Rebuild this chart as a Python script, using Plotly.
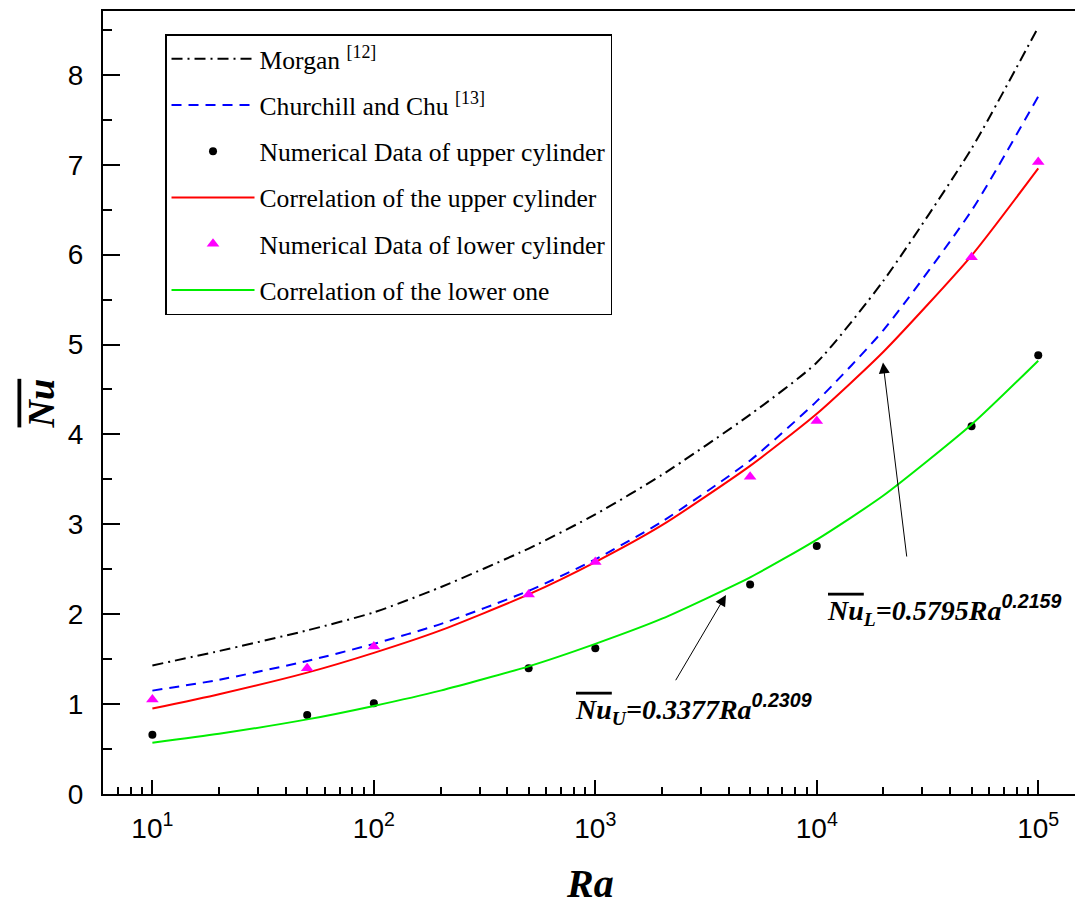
import plotly.graph_objects as go

# ---- data ----
ra_curve = [10, 20, 50, 100, 200, 500, 1000, 2000, 5000, 10000, 20000, 50000, 100000]
morgan = [1.43, 1.59, 1.82, 2.02, 2.30, 2.73, 3.11, 3.55, 4.22, 4.80, 5.71, 7.18, 8.53]
churchill_chu = [1.15, 1.27, 1.48, 1.67, 1.89, 2.26, 2.61, 3.03, 3.71, 4.37, 5.16, 6.49, 7.76]
corr_upper = [0.95, 1.11, 1.35, 1.57, 1.82, 2.22, 2.58, 2.99, 3.65, 4.23, 4.92, 5.99, 6.96]
corr_lower = [0.57, 0.67, 0.83, 0.98, 1.15, 1.42, 1.67, 1.95, 2.41, 2.83, 3.32, 4.11, 4.82]

ra_points = [10, 50, 100, 500, 1000, 5000, 10000, 50000, 100000]
num_upper = [0.66, 0.88, 1.01, 1.40, 1.62, 2.33, 2.76, 4.09, 4.88]
num_lower = [1.05, 1.40, 1.64, 2.22, 2.58, 3.53, 4.15, 5.97, 7.03]

x_tickvals = [10, 100, 1000, 10000, 100000]
x_ticktext = ["10<sup>1</sup>", "10<sup>2</sup>", "10<sup>3</sup>", "10<sup>4</sup>", "10<sup>5</sup>"]
y_tickvals = [0, 1, 2, 3, 4, 5, 6, 7, 8]

names = [
    "Morgan <sup>[12]</sup>",
    "Churchill and Chu <sup>[13]</sup>",
    "Numerical Data of upper cylinder",
    "Correlation of the upper cylinder",
    "Numerical Data of lower cylinder",
    "Correlation of the lower one",
]

fig = go.Figure()
fig.add_trace(go.Scatter(x=ra_curve, y=morgan, mode="lines", name=names[0], legendgroup="a",
                         line=dict(color="black", width=2, dash="11px,5px,2px,5px", shape="spline", smoothing=0.6)))
fig.add_trace(go.Scatter(x=ra_curve, y=churchill_chu, mode="lines", name=names[1], legendgroup="b",
                         line=dict(color="#0000ff", width=2, dash="10px,7px", shape="spline", smoothing=0.6)))
fig.add_trace(go.Scatter(x=ra_points, y=num_upper, mode="markers", name=names[2], legendgroup="c",
                         marker=dict(color="black", size=8, symbol="circle")))
fig.add_trace(go.Scatter(x=ra_curve, y=corr_upper, mode="lines", name=names[3], legendgroup="d",
                         line=dict(color="#ff0000", width=2, shape="spline", smoothing=0.6)))
fig.add_trace(go.Scatter(x=ra_points, y=num_lower, mode="markers", name=names[4], legendgroup="e",
                         marker=dict(color="#ff00ff", size=11, symbol="triangle-up")))
fig.add_trace(go.Scatter(x=ra_curve, y=corr_lower, mode="lines", name=names[5], legendgroup="f",
                         line=dict(color="#00ee00", width=2, shape="spline", smoothing=0.6)))

serif = "Liberation Serif, Times New Roman, serif"
sans = "Liberation Sans, Arial, sans-serif"

fig.update_layout(
    width=1075, height=909,
    margin=dict(l=103, r=0, t=11, b=115),
    paper_bgcolor="white", plot_bgcolor="white",
    showlegend=True,
    legend=dict(x=0.0638, y=0.9706, xanchor="left", yanchor="top",
                bordercolor="black", borderwidth=1.5, bgcolor="white",
                font=dict(family=serif, size=25.6, color="black"),
                tracegroupgap=10, itemwidth=83),
    xaxis=dict(type="log", range=[0.777, 5.166], tickvals=x_tickvals, ticktext=x_ticktext,
               ticks="inside", ticklen=14, tickwidth=1.5, tickcolor="black",
               showline=True, linecolor="black", linewidth=2, mirror=True,
               showgrid=False, zeroline=False,
               tickfont=dict(family=sans, size=28, color="black"), ticklabelstandoff=8,
               minor=dict(ticks="inside", ticklen=7, tickwidth=1.5, tickcolor="black",
                          tickvals=[m * 10 ** k for k in range(0, 6) for m in range(2, 10)],
                          showgrid=False)),
    yaxis=dict(range=[0, 8.71], tickvals=y_tickvals,
               ticks="inside", ticklen=17, tickwidth=1.5, tickcolor="black",
               showline=True, linecolor="black", linewidth=2, mirror=False,
               showgrid=False, zeroline=False,
               tickfont=dict(family=sans, size=28, color="black"), ticklabelstandoff=12,
               minor=dict(ticks="inside", ticklen=9, tickwidth=1.5, tickcolor="black", dtick=0.5,
                          showgrid=False)),
)

# Axis titles
fig.add_annotation(xref="paper", yref="paper", x=0.501, y=-0.145, showarrow=False,
                   text="<b><i>Ra</i></b>", font=dict(family=serif, size=40, color="black"))
fig.add_annotation(xref="paper", yref="paper", x=-0.087, y=0.4994, showarrow=False, textangle=-90,
                   text="<b><i><span style='text-decoration:overline'>Nu</span></i></b>",
                   font=dict(family=serif, size=38, color="black"))

# Equation labels with arrows
fig.add_annotation(x=4.299, y=4.80, ax=4.407, ay=2.625, axref="x", ayref="y",
                   showarrow=True, arrowhead=2, arrowsize=2.2, arrowwidth=1, arrowcolor="black",
                   text="")
fig.add_annotation(x=3.590, y=2.214, ax=3.359, ay=1.249, axref="x", ayref="y",
                   showarrow=True, arrowhead=2, arrowsize=2.2, arrowwidth=1, arrowcolor="black",
                   text="")
fig.add_annotation(x=4.037, y=2.05, xanchor="left", yanchor="middle", showarrow=False,
                   text="<b><i><span style='text-decoration:overline'>Nu</span><sub>L</sub>=0.5795Ra"
                        "<sup><span style='font-family:Liberation Sans'>0.2159</span></sup></i></b>",
                   font=dict(family=serif, size=28, color="black"))
fig.add_annotation(x=2.899, y=0.95, xanchor="left", yanchor="middle", showarrow=False,
                   text="<b><i><span style='text-decoration:overline'>Nu</span><sub>U</sub>=0.3377Ra"
                        "<sup><span style='font-family:Liberation Sans'>0.2309</span></sup></i></b>",
                   font=dict(family=serif, size=28, color="black"))

fig.write_html("out.html")
